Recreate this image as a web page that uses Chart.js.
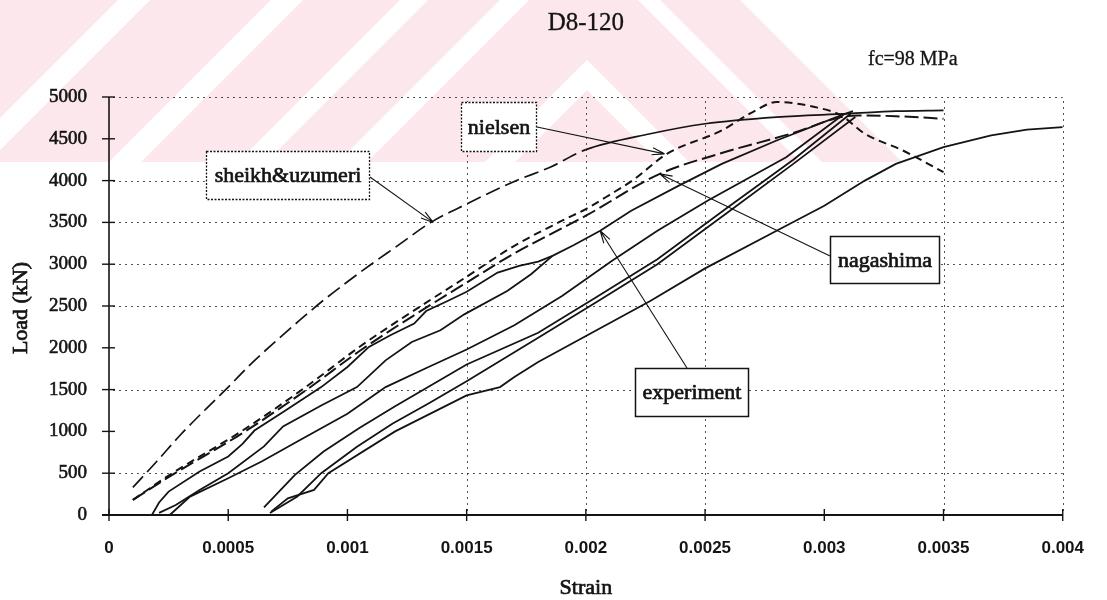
<!DOCTYPE html>
<html>
<head>
<meta charset="utf-8">
<script src="https://cdn.jsdelivr.net/npm/chart.js@4.4.1/dist/chart.umd.min.js"></script>
<style>
  html, body { margin: 0; padding: 0; background: #fff; }
  #wrap { width: 1107px; height: 600px; position: relative; }
</style>
</head>
<body>
<div id="wrap"><canvas id="chart" width="1107" height="600"></canvas></div>
<script>
// ---- Load–strain data for specimen D8-120 (strain, load in kN) ----
const sheikhStrain = [0.0001, 0.0002, 0.0003, 0.0004, 0.0005, 0.0006, 0.0007, 0.0008, 0.0009, 0.001, 0.0011, 0.0012, 0.00135, 0.0015, 0.0017, 0.00185, 0.002, 0.00227, 0.0025, 0.0028, 0.0031, 0.0033, 0.0035];
const sheikhLoad   = [330, 640, 960, 1250, 1530, 1820, 2080, 2330, 2570, 2790, 3000, 3200, 3500, 3720, 3990, 4160, 4370, 4560, 4680, 4760, 4800, 4830, 4840];

const nielsenStrain = [0.0001, 0.00026, 0.00056, 0.00082, 0.00106, 0.00133, 0.0015, 0.0017, 0.0019, 0.002, 0.0021, 0.0022, 0.00234, 0.00257, 0.0027, 0.0028, 0.00296, 0.00307, 0.00317, 0.00333, 0.0035];
const nielsenLoad   = [180, 490, 1010, 1520, 2030, 2540, 2850, 3220, 3520, 3660, 3830, 4010, 4320, 4600, 4820, 4940, 4880, 4780, 4560, 4360, 4100];

const nagashimaStrain = [0.0001, 0.00026, 0.00056, 0.00082, 0.00106, 0.00133, 0.0015, 0.0017, 0.0019, 0.002, 0.00231, 0.00257, 0.00287, 0.00307, 0.00314, 0.0033, 0.0035];
const nagashimaLoad   = [180, 470, 980, 1480, 1980, 2480, 2780, 3130, 3430, 3580, 4080, 4330, 4570, 4760, 4780, 4770, 4740];

// experiment: loading / unloading branches of the cyclic test
const expAStrain = [0.00018, 0.00021, 0.00025, 0.00038, 0.0005, 0.00056, 0.00061, 0.00074, 0.00089, 0.001, 0.00109, 0.00118, 0.00128, 0.00133, 0.00142, 0.0015, 0.00163, 0.00172, 0.0018, 0.00186, 0.00195, 0.00206, 0.00219, 0.00239, 0.00257, 0.0028, 0.00307, 0.00312];
const expALoad   = [0, 150, 280, 520, 700, 850, 1010, 1250, 1530, 1770, 2010, 2150, 2290, 2440, 2560, 2670, 2900, 2980, 3030, 3100, 3230, 3400, 3640, 3940, 4200, 4480, 4780, 4830];

const expBStrain = [0.00186, 0.00177, 0.00167, 0.00149, 0.00139, 0.00127, 0.00116, 0.00104, 0.00089, 0.00073, 0.00065, 0.0005, 0.00038, 0.00028, 0.00021];
const expBLoad   = [3100, 2880, 2680, 2400, 2210, 2070, 1850, 1530, 1310, 1060, 820, 500, 300, 120, 25];

const expCStrain = [0.000255, 0.00034, 0.0005, 0.00064, 0.00079, 0.001, 0.00116, 0.00134, 0.0015, 0.0017, 0.0019, 0.00211, 0.0023, 0.00251, 0.00284, 0.00308];
const expCLoad   = [0, 220, 440, 640, 880, 1210, 1530, 1770, 1980, 2270, 2620, 3040, 3400, 3760, 4280, 4790];

const expDStrain = [0.00311, 0.00287, 0.0026, 0.0023, 0.00204, 0.0018, 0.0015, 0.0012, 0.00105, 0.0009, 0.00078, 0.00072, 0.00065];
const expDLoad   = [4800, 4250, 3690, 3060, 2600, 2180, 1800, 1300, 1040, 760, 480, 300, 90];

const expEStrain = [0.000675, 0.00079, 0.00089, 0.00104, 0.00119, 0.00134, 0.0015, 0.0018, 0.00204, 0.0023, 0.0026, 0.00287, 0.00313];
const expELoad   = [24, 222, 500, 817, 1095, 1333, 1600, 2120, 2540, 3000, 3630, 4200, 4760];

const expFStrain = [0.00068, 0.00075, 0.00086, 0.00092, 0.0012, 0.0015, 0.00164, 0.0017, 0.0018, 0.00227, 0.0025, 0.0028, 0.003, 0.00317, 0.0033, 0.0035, 0.0037, 0.00385, 0.004];
const expFLoad   = [40, 200, 300, 500, 1000, 1430, 1530, 1650, 1830, 2560, 2950, 3400, 3700, 4000, 4200, 4400, 4540, 4610, 4640];

// axis ticks and the dotted reference lines that are drawn
const strainTicks = [0, 0.0005, 0.001, 0.0015, 0.002, 0.0025, 0.003, 0.0035, 0.004];
const loadTicks   = [0, 500, 1000, 1500, 2000, 2500, 3000, 3500, 4000, 4500, 5000];
const strainGrid  = [0.0015, 0.002, 0.0025, 0.0035, 0.004];
const loadGrid    = [500, 1500, 2500, 3000, 3500, 4000, 5000];

const chartTitle = 'D8-120';
const strengthNote = 'fc=98 MPa';
const xTitle = 'Strain';
const yTitle = 'Load (kN)';

// callout boxes: text, box [x0,y0,x1,y1] in px, arrow start in px, arrow target in data units
const callouts = [
  { text: 'sheikh&uzumeri', box: [206, 151, 370, 200], dotted: true,  from: [370, 177], to: [0.00136, 3500] },
  { text: 'nielsen',        box: [461, 102, 537, 152], dotted: true,  from: [537, 127], to: [0.00233, 4320] },
  { text: 'nagashima',      box: [830, 236, 940, 284], dotted: false, from: [830, 256], to: [0.00231, 4080] },
  { text: 'experiment',     box: [635, 368, 749, 417], dotted: false, from: [687, 368], to: [0.00206, 3400] }
];

const INK = '#141414';
const SERIF = '"Liberation Serif", "Times New Roman", serif';

function pairs(xs, ys) { return xs.map((x, i) => ({ x: x, y: ys[i] })); }

function curve(label, xs, ys, extra) {
  return Object.assign({
    label: label,
    data: pairs(xs, ys),
    showLine: true,
    borderColor: INK,
    borderWidth: 1.8,
    pointRadius: 0,
    fill: false,
    tension: 0
  }, extra || {});
}

const datasets = [
  curve('sheikh&uzumeri', sheikhStrain, sheikhLoad, {
    cubicInterpolationMode: 'monotone', borderWidth: 1.7,
    segment: { borderDash: ctx => (ctx.p1.parsed.x <= 0.00205 ? [15, 6] : []) }
  }),
  curve('nielsen', nielsenStrain, nielsenLoad, { cubicInterpolationMode: 'monotone', borderDash: [8, 5], borderWidth: 2 }),
  curve('nagashima', nagashimaStrain, nagashimaLoad, { cubicInterpolationMode: 'monotone', borderDash: [14, 5], borderWidth: 2 }),
  curve('experiment', expAStrain, expALoad),
  curve('experiment', expBStrain, expBLoad),
  curve('experiment', expCStrain, expCLoad),
  curve('experiment', expDStrain, expDLoad),
  curve('experiment', expEStrain, expELoad),
  curve('experiment', expFStrain, expFLoad)
];

function fmtStrain(v) { return String(Number(v.toFixed(4))); }

// pale diagonal banding in the page background
function drawBackdrop(ctx) {
  const pink = '#fce8ec';
  ctx.save();
  ctx.beginPath();
  ctx.rect(0, 0, 1107, 162);
  ctx.clip();
  ctx.fillStyle = pink;
  ctx.beginPath();
  ctx.moveTo(0, 0); ctx.lineTo(740, 0); ctx.lineTo(902, 162); ctx.lineTo(0, 162);
  ctx.closePath(); ctx.fill();
  ctx.fillStyle = '#ffffff';
  const rising = [[118, 150], [271, 303], [400, 428], [500, 529]];
  rising.forEach(([a, b]) => {
    ctx.beginPath();
    ctx.moveTo(a, 0); ctx.lineTo(b, 0); ctx.lineTo(b - 162, 162); ctx.lineTo(a - 162, 162);
    ctx.closePath(); ctx.fill();
  });
  const falling = [[638, 660]];
  falling.forEach(([a, b]) => {
    ctx.beginPath();
    ctx.moveTo(a, 0); ctx.lineTo(b, 0); ctx.lineTo(b + 162, 162); ctx.lineTo(a + 162, 162);
    ctx.closePath(); ctx.fill();
  });
  // chevron
  ctx.beginPath();
  ctx.moveTo(587, 60); ctx.lineTo(697, 170); ctx.lineTo(667, 170); ctx.lineTo(587, 90);
  ctx.lineTo(507, 170); ctx.lineTo(477, 170);
  ctx.closePath(); ctx.fill();
  ctx.restore();
}

// filled text with a thin outline of the same ink, for a heavier print look
function inkText(ctx, text, x, y, weight) {
  ctx.fillText(text, x, y);
  ctx.lineWidth = weight;
  ctx.strokeStyle = ctx.fillStyle;
  ctx.strokeText(text, x, y);
}

function drawArrow(ctx, x0, y0, x1, y1) {
  ctx.beginPath();
  ctx.moveTo(x0, y0); ctx.lineTo(x1, y1);
  const ang = Math.atan2(y1 - y0, x1 - x0);
  const len = 13, spread = 0.28;
  ctx.moveTo(x1, y1);
  ctx.lineTo(x1 - len * Math.cos(ang - spread), y1 - len * Math.sin(ang - spread));
  ctx.moveTo(x1, y1);
  ctx.lineTo(x1 - len * Math.cos(ang + spread), y1 - len * Math.sin(ang + spread));
  ctx.stroke();
}

const decor = {
  id: 'decor',
  beforeDraw(chart) {
    const ctx = chart.ctx;
    ctx.save();
    ctx.fillStyle = '#fff';
    ctx.fillRect(0, 0, chart.width, chart.height);
    ctx.restore();
    drawBackdrop(ctx);
  },
  beforeDatasetsDraw(chart) {
    const ctx = chart.ctx;
    const xs = chart.scales.x, ys = chart.scales.y;
    const left = xs.getPixelForValue(0), right = xs.getPixelForValue(0.004);
    const top = ys.getPixelForValue(5000), bottom = ys.getPixelForValue(0);
    ctx.save();
    ctx.strokeStyle = 'rgba(40,40,40,0.8)';
    ctx.lineWidth = 1;
    ctx.setLineDash([2, 4]);
    loadGrid.forEach(v => {
      const y = Math.round(ys.getPixelForValue(v)) + 0.5;
      ctx.beginPath(); ctx.moveTo(left + 4, y); ctx.lineTo(right, y); ctx.stroke();
    });
    strainGrid.forEach(v => {
      const x = Math.round(xs.getPixelForValue(v)) + 0.5;
      ctx.beginPath(); ctx.moveTo(x, bottom - 4); ctx.lineTo(x, top); ctx.stroke();
    });
    ctx.restore();
  },
  afterDatasetsDraw(chart) {
    const ctx = chart.ctx;
    const xs = chart.scales.x, ys = chart.scales.y;
    const left = xs.getPixelForValue(0), right = xs.getPixelForValue(0.004);
    const top = ys.getPixelForValue(5000), bottom = ys.getPixelForValue(0);
    ctx.save();
    // axes with crossing tick marks
    ctx.strokeStyle = INK;
    ctx.lineWidth = 1.6;
    ctx.beginPath(); ctx.moveTo(left, top); ctx.lineTo(left, bottom); ctx.stroke();
    ctx.lineWidth = 2.2;
    ctx.beginPath(); ctx.moveTo(left - 7, bottom); ctx.lineTo(right, bottom); ctx.stroke();
    ctx.lineWidth = 1.4;
    loadTicks.forEach(v => {
      const y = ys.getPixelForValue(v);
      ctx.beginPath(); ctx.moveTo(left - 7, y); ctx.lineTo(left + 6, y); ctx.stroke();
    });
    strainTicks.forEach(v => {
      const x = xs.getPixelForValue(v);
      ctx.beginPath(); ctx.moveTo(x, bottom - 6); ctx.lineTo(x, bottom + 6); ctx.stroke();
    });

    // callouts
    callouts.forEach(c => {
      const [x0, y0, x1, y1] = c.box;
      ctx.fillStyle = '#fff';
      ctx.fillRect(x0, y0, x1 - x0, y1 - y0);
      ctx.strokeStyle = INK;
      ctx.lineWidth = c.dotted ? 1.3 : 1.5;
      ctx.setLineDash(c.dotted ? [2, 1.5] : []);
      ctx.strokeRect(x0 + 0.5, y0 + 0.5, x1 - x0 - 1, y1 - y0 - 1);
      ctx.setLineDash([]);
      ctx.fillStyle = INK;
      ctx.font = '22px ' + SERIF;
      ctx.textAlign = 'center';
      ctx.textBaseline = 'middle';
      inkText(ctx, c.text, (x0 + x1) / 2, (y0 + y1) / 2 + 1, 0.7);
      ctx.strokeStyle = INK;
      ctx.lineWidth = 1.1;
      drawArrow(ctx, c.from[0], c.from[1], xs.getPixelForValue(c.to[0]), ys.getPixelForValue(c.to[1]));
    });

    // titles
    ctx.fillStyle = INK;
    ctx.textAlign = 'center';
    ctx.textBaseline = 'alphabetic';
    ctx.font = '25px ' + SERIF;
    inkText(ctx, chartTitle, (left + right) / 2, 30, 0.3);
    ctx.font = '20px ' + SERIF;
    ctx.textAlign = 'left';
    inkText(ctx, strengthNote, 868, 65, 0.3);
    ctx.font = '22px ' + SERIF;
    ctx.textAlign = 'center';
    ctx.textBaseline = 'middle';
    inkText(ctx, xTitle, (left + right) / 2, 588, 0.7);
    ctx.translate(21, 308);
    ctx.rotate(-Math.PI / 2);
    inkText(ctx, yTitle, 0, 0, 0.7);
    ctx.restore();
  }
};

new Chart(document.getElementById('chart'), {
  type: 'scatter',
  data: { datasets: datasets },
  options: {
    responsive: false,
    animation: false,
    devicePixelRatio: 1,
    layout: { padding: { top: 97, right: 41, bottom: 0, left: 0 } },
    plugins: { legend: { display: false }, tooltip: { enabled: false }, title: { display: false } },
    scales: {
      x: {
        type: 'linear', min: 0, max: 0.004,
        grid: { display: false, drawTicks: false },
        border: { display: false },
        afterBuildTicks: s => { s.ticks = strainTicks.map(v => ({ value: v })); },
        afterFit: s => { s.height = 85; },
        ticks: {
          padding: 23, color: INK, maxRotation: 0, autoSkip: false,
          font: { family: '"Liberation Sans", Arial, sans-serif', size: 17, weight: 'bold' },
          callback: v => fmtStrain(v)
        }
      },
      y: {
        type: 'linear', min: 0, max: 5000,
        grid: { display: false, drawTicks: false },
        border: { display: false },
        afterBuildTicks: s => { s.ticks = loadTicks.map(v => ({ value: v })); },
        afterFit: s => { s.width = 109; },
        ticks: {
          padding: 22, color: INK,
          textStrokeColor: INK, textStrokeWidth: 0.6,
          font: { family: SERIF, size: 19 },
          callback: v => String(v)
        }
      }
    }
  },
  plugins: [decor]
});
</script>
</body>
</html>
